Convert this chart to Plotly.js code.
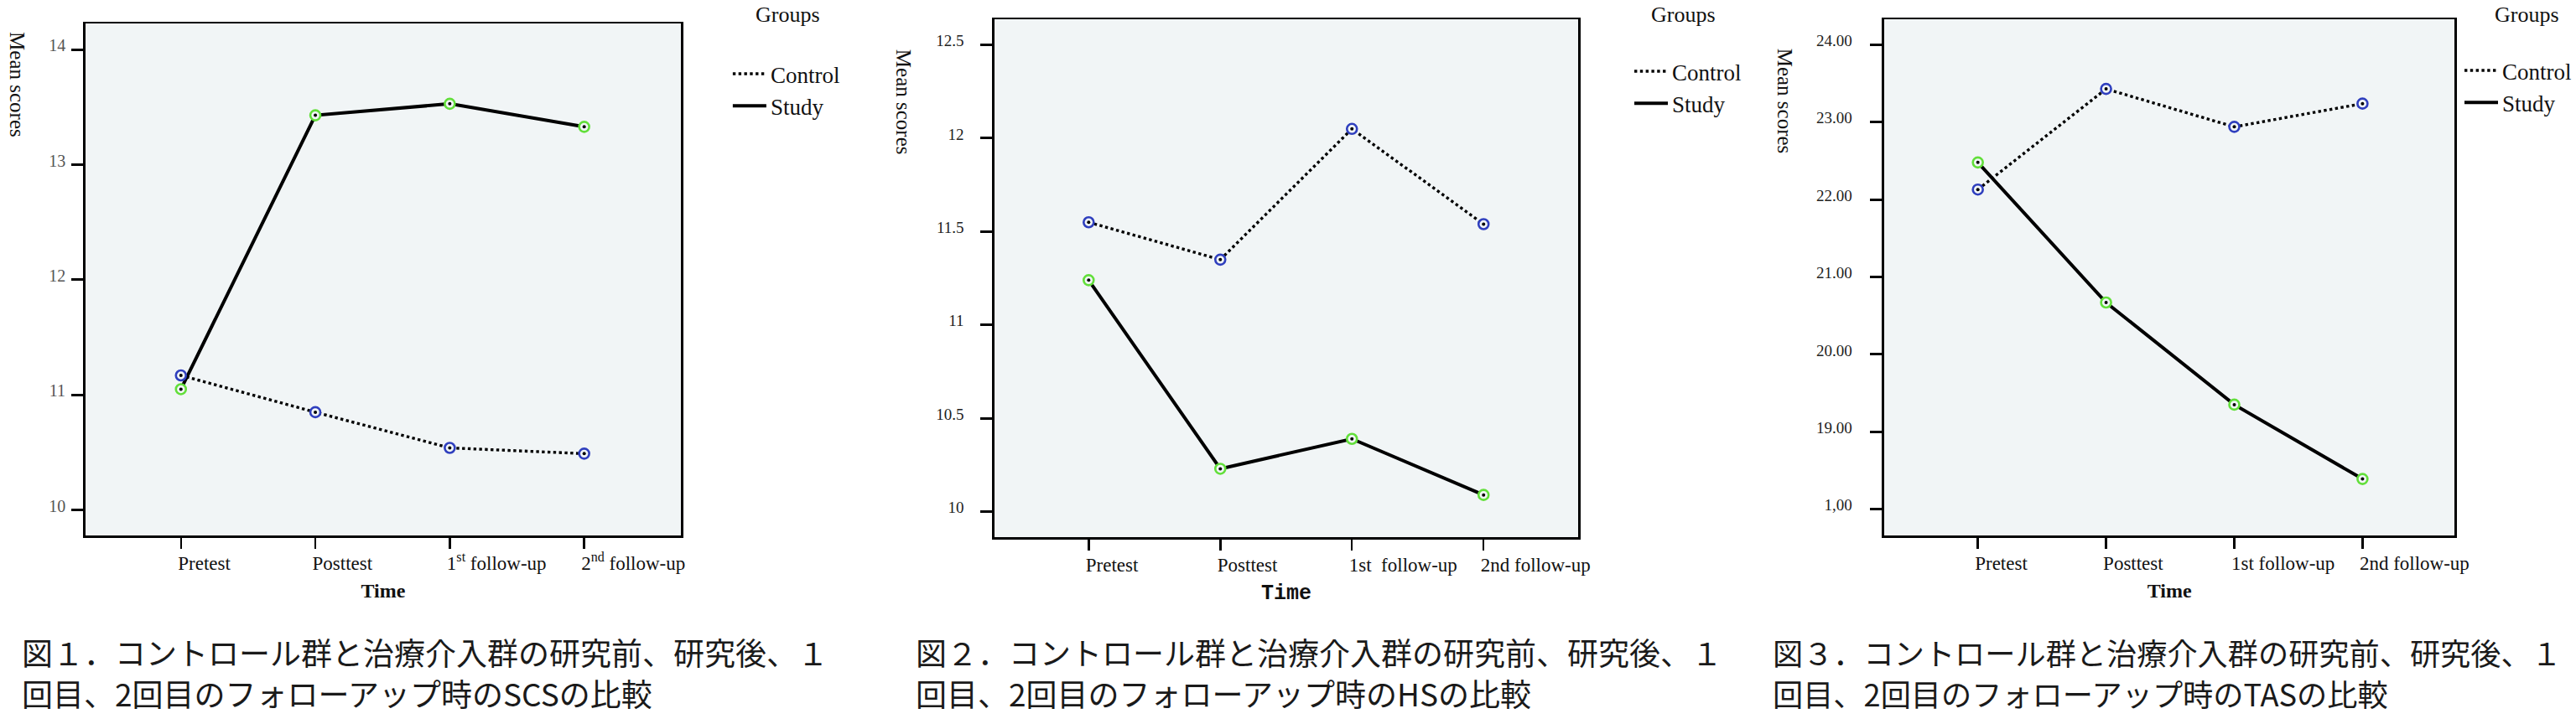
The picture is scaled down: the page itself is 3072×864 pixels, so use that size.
<!DOCTYPE html>
<html><head><meta charset="utf-8">
<script src="https://cdn.plot.ly/plotly-3.0.1.min.js"></script>
<style>html,body{margin:0;padding:0;background:#fff}#chart{width:3072px;height:864px}</style>
</head><body><div id="chart"></div>
<script>
// ---------- data ----------
const timeCategories = ["Pretest", "Posttest", "1st follow-up", "2nd follow-up"];
const scsTickLabels = ["Pretest", "Posttest", "1<sup>st</sup> follow-up", "2<sup>nd</sup> follow-up"];
const hsTickLabels = ["Pretest", "Posttest", "1st\u00a0 follow-up", "2nd follow-up"];
const tasTickLabels = ["Pretest", "Posttest", "1st follow-up", "2nd follow-up"];
const groupNames = ["Control", "Study"];

const scsControl = [11.17, 10.85, 10.54, 10.49];
const scsStudy   = [11.05, 13.43, 13.53, 13.33];
const hsControl  = [11.55, 11.35, 12.05, 11.54];
const hsStudy    = [11.24, 10.23, 10.39, 10.09];
const tasControl = [22.13, 23.43, 22.94, 23.24];
const tasStudy   = [22.48, 20.67, 19.35, 18.39];

const scsYTicks = [10, 11, 12, 13, 14];
const scsYTickLabels = ["10", "11", "12", "13", "14"];
const hsYTicks = [10, 10.5, 11, 11.5, 12, 12.5];
const hsYTickLabels = ["10", "10.5", "11", "11.5", "12", "12.5"];
const tasYTicks = [18, 19, 20, 21, 22, 23, 24];
const tasYTickLabels = ["1,00", "19.00", "20.00", "21.00", "22.00", "23.00", "24.00"];

const yTitleText = "Mean scores";
const xTitleText = "Time";
const legendTitleText = "Groups";
const captionLine1 = [
  "図１．コントロール群と治療介入群の研究前、研究後、１",
  "図２．コントロール群と治療介入群の研究前、研究後、１",
  "図３．コントロール群と治療介入群の研究前、研究後、１"
];
const captionLine2 = [
  "回目、2回目のフォローアップ時のSCSの比較",
  "回目、2回目のフォローアップ時のHSの比較",
  "回目、2回目のフォローアップ時のTASの比較"
];

// ---------- styles / layout geometry ----------
const W = 3072, H = 864;
const px = v => v / W;
const py = v => 1 - v / H;
const serif = "Liberation Serif, Times New Roman, serif";
const bg = "#F1F5F6";
const blue = "#2F3FBE";
const green = "#62DF3A";

const panels = [
  {sfx: "", ctrl: scsControl, study: scsStudy, ticks: scsTickLabels, yt: scsYTicks, ytl: scsYTickLabels,
   box: [102, 815, 28, 639], xr: [-0.712, 3.72], yr: [9.779, 14.228], ytColor: "#555", ytSize: 20, ytStand: 3,
   xTitleFont: {family: serif, size: 24, color: "#111", weight: 700},
   yTitle: [21, 101], groups: [943, 1], legend: [872, 64], cap: 24, capSize: 37},
  {sfx: "2", ctrl: hsControl, study: hsStudy, ticks: hsTickLabels, yt: hsYTicks, ytl: hsYTickLabels,
   box: [1190, 1889, 23, 641], xr: [-0.717, 3.72], yr: [9.864, 12.637], ytColor: "#222", ytSize: 19, ytStand: 16,
   xTitleFont: {family: "Liberation Mono, Courier New, monospace", size: 25, color: "#111", weight: 700},
   yTitle: [1082, 122], groups: [2015, 1], legend: [1951, 61], cap: 1094, capSize: 37},
  {sfx: "3", ctrl: tasControl, study: tasStudy, ticks: tasTickLabels, yt: tasYTicks, ytl: tasYTickLabels,
   box: [2255, 2938, 23, 639], xr: [-0.731, 3.72], yr: [17.66, 24.33], ytColor: "#222", ytSize: 19, ytStand: 18,
   xTitleFont: {family: serif, size: 24, color: "#111", weight: 700},
   yTitle: [2136, 121], groups: [3024, 1], legend: [2945, 60], cap: 2120, capSize: 36.2}
];

const traces = [];
const layout = {
  width: W, height: H, autosize: false,
  margin: {l: 0, r: 0, t: 0, b: 0, pad: 0},
  paper_bgcolor: "#ffffff", plot_bgcolor: bg,
  font: {family: serif, color: "#111"},
  showlegend: true,
  annotations: [], hovermode: false
};

panels.forEach((p, i) => {
  const xa = "x" + p.sfx, ya = "y" + p.sfx;
  const legendId = "legend" + p.sfx;
  const series = [
    {name: groupNames[0], y: p.ctrl, dash: "dot", width: 3.4, mcol: blue},
    {name: groupNames[1], y: p.study, dash: "solid", width: 4, mcol: green}
  ];
  series.forEach(s => {
    traces.push({type: "scatter", mode: "lines", x: timeCategories, y: s.y, name: s.name,
      xaxis: xa, yaxis: ya, legend: legendId, showlegend: true,
      line: {color: "#000", width: s.width, dash: s.dash}});
  });
  series.forEach(s => {
    traces.push({type: "scatter", mode: "markers", x: timeCategories, y: s.y, name: s.name,
      xaxis: xa, yaxis: ya, showlegend: false,
      marker: {symbol: "circle", size: 12, color: bg, line: {color: s.mcol, width: 2.6}}});
    traces.push({type: "scatter", mode: "markers", x: timeCategories, y: s.y, name: s.name,
      xaxis: xa, yaxis: ya, showlegend: false,
      marker: {symbol: "circle", size: 4, color: "#000", line: {width: 0}}});
  });

  const [l, r, t, b] = p.box;
  layout["xaxis" + p.sfx] = {
    domain: [px(l), px(r)], anchor: ya, type: "category",
    categoryorder: "array", categoryarray: timeCategories,
    range: p.xr, showgrid: false, zeroline: false,
    showline: true, mirror: true, linecolor: "#000", linewidth: 2.5,
    ticks: "outside", ticklen: 13, tickwidth: 2.5, tickcolor: "#000",
    tickmode: "array", tickvals: timeCategories, ticktext: p.ticks,
    ticklabelposition: "outside right", ticklabelstandoff: 11, ticklabelshift: -6,
    tickfont: {family: serif, size: 23, color: "#111"},
    title: {text: xTitleText, font: p.xTitleFont, standoff: 12},
    automargin: false, fixedrange: true
  };
  layout["yaxis" + p.sfx] = {
    domain: [py(b), py(t)], anchor: xa,
    range: p.yr, showgrid: false, zeroline: false,
    showline: true, mirror: true, linecolor: "#000", linewidth: 2.5,
    ticks: "outside", ticklen: 14, tickwidth: 3, tickcolor: "#000",
    tickmode: "array", tickvals: p.yt, ticktext: p.ytl,
    tickfont: {family: serif, size: p.ytSize, color: p.ytColor},
    ticklabelstandoff: p.ytStand, ticklabelshift: -5,
    automargin: false, fixedrange: true
  };
  layout[legendId] = {
    x: px(p.legend[0]), y: py(p.legend[1]), xanchor: "left", yanchor: "top",
    xref: "paper", yref: "paper", bgcolor: "rgba(0,0,0,0)", borderwidth: 0,
    font: {family: serif, size: 27, color: "#111"}, itemwidth: 40, traceorder: "normal",
    itemclick: false, itemdoubleclick: false
  };
  layout.annotations.push(
    {text: yTitleText, xref: "paper", yref: "paper", x: px(p.yTitle[0]), y: py(p.yTitle[1]),
     xanchor: "center", yanchor: "middle", textangle: 90, showarrow: false,
     font: {family: serif, size: 25, color: "#111"}},
    {text: legendTitleText, xref: "paper", yref: "paper", x: px(p.groups[0]), y: py(p.groups[1]),
     xanchor: "center", yanchor: "top", showarrow: false,
     font: {family: serif, size: 26, color: "#111"}},
    {text: captionLine1[i], xref: "paper", yref: "paper", x: px(p.cap), y: py(778),
     xanchor: "left", yanchor: "middle", showarrow: false,
     font: {family: "Noto Sans CJK JP", size: p.capSize, color: "#1a1a1a"}},
    {text: captionLine2[i], xref: "paper", yref: "paper", x: px(p.cap), y: py(827),
     xanchor: "left", yanchor: "middle", showarrow: false,
     font: {family: "Noto Sans CJK JP", size: p.capSize, color: "#1a1a1a"}}
  );
});

Plotly.newPlot("chart", traces, layout, {staticPlot: true, displayModeBar: false});
</script>
</body></html>
